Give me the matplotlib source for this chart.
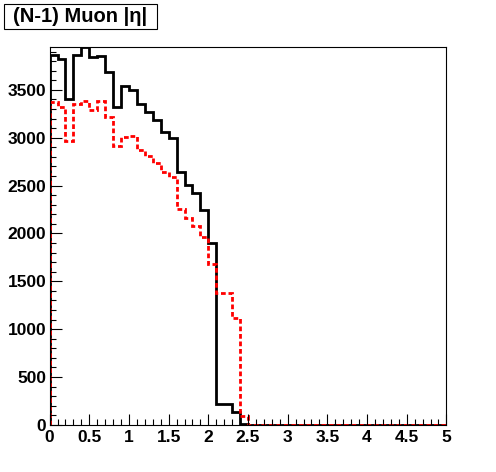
import numpy as np
import matplotlib
matplotlib.use('Agg')
import matplotlib.pyplot as plt
from matplotlib.patches import Rectangle
from matplotlib.ticker import MultipleLocator, FixedLocator

plt.rcParams['font.family'] = ['Liberation Sans', 'DejaVu Sans']
plt.rcParams['font.weight'] = 'bold'

# bin edges: 50 bins of width 0.1 from 0 to 5
edges = np.linspace(0, 5, 51)

# black histogram (solid)
black = [3868, 3826, 3406, 3860, 3947, 3843, 3853, 3685, 3325, 3535,
         3493, 3354, 3266, 3186, 3056, 2995, 2636, 2507, 2426, 2248,
         1902, 215, 215, 136, 12] + [0] * 25

# red histogram (dotted)
red = [3371, 3325, 2969, 3354, 3388, 3294, 3388, 3213, 2909, 3011,
       3014, 2874, 2811, 2735, 2636, 2584, 2252, 2158, 2077, 1965,
       1675, 1377, 1377, 1115, 92] + [0] * 25

xtick_vals = [0, 0.5, 1, 1.5, 2, 2.5, 3, 3.5, 4, 4.5, 5]
xtick_labels = ['0', '0.5', '1', '1.5', '2', '2.5', '3', '3.5', '4', '4.5', '5']
ytick_vals = [0, 500, 1000, 1500, 2000, 2500, 3000, 3500]

fig = plt.figure(figsize=(4.96, 4.72), dpi=100)
ax = fig.add_axes([0.1, 0.1, 0.8, 0.8])

ax.stairs(black, edges, color='black', lw=2.0, baseline=0)
ax.stairs(red, edges, color='red', lw=2.0, linestyle=(0, (1.7, 1.0)), baseline=0)

ax.set_xlim(0, 5)
ax.set_ylim(0, 3945)

ax.xaxis.set_major_locator(FixedLocator(xtick_vals))
ax.set_xticklabels(xtick_labels)
ax.xaxis.set_minor_locator(MultipleLocator(0.1))
ax.yaxis.set_major_locator(FixedLocator(ytick_vals))
ax.yaxis.set_minor_locator(MultipleLocator(100))

ax.tick_params(axis='x', which='major', direction='in', length=8, width=0.8,
               top=False, labelsize=12.5, pad=3.5)
ax.tick_params(axis='x', which='minor', direction='in', length=4, width=0.8, top=False)
ax.tick_params(axis='y', which='major', direction='in', length=8.6, width=0.8,
               right=False, labelsize=12.5, pad=2.5)
ax.tick_params(axis='y', which='minor', direction='in', length=4.3, width=0.8, right=False)
for lab in ax.get_xticklabels() + ax.get_yticklabels():
    lab.set_fontweight('bold')

for s in ax.spines.values():
    s.set_linewidth(0.8)

# title box in the top left corner
fig.patches.append(Rectangle((4 / 496, 1 - 29 / 472), 153 / 496, 25 / 472,
                             transform=fig.transFigure, facecolor='white',
                             edgecolor='black', lw=0.8))
fig.text(80.5 / 496, 1 - 17 / 472, '(N-1) Muon |η|', ha='center', va='center',
         fontsize=14.5, fontweight='bold')

fig.savefig('out.png', dpi=100)
